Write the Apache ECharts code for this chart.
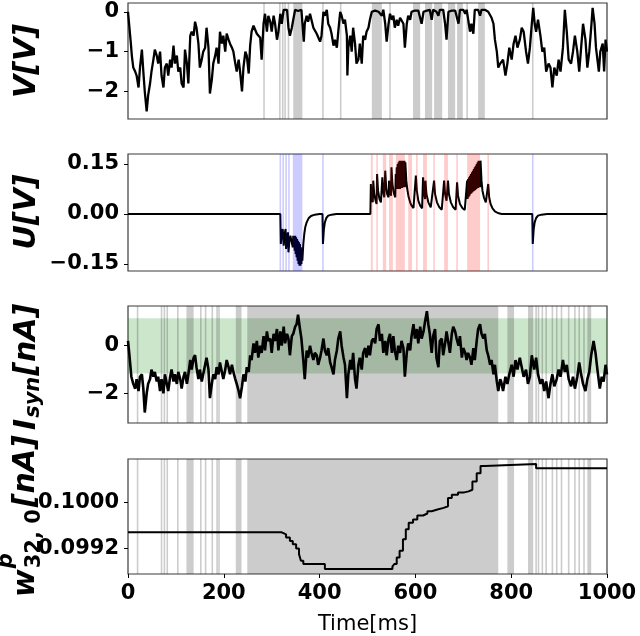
<!DOCTYPE html>
<html><head><meta charset="utf-8">
<script src="https://cdn.jsdelivr.net/npm/echarts@6/dist/echarts.min.js"></script>
<style>html,body{margin:0;padding:0;background:#fff}#c{width:640px;height:636px}</style>
</head><body><div id="c"></div>
<script>
// ---------------- data ----------------
const timeTicks = [0, 200, 400, 600, 800, 1000];
const vTickVals = [-2, -1, 0];
const vTickLabels = ['\u22122', '\u22121', '0'];
const uTickVals = [-0.15, 0, 0.15];
const uTickLabels = ['\u22120.15', '0.00', '0.15'];
const iTickVals = [-2, 0];
const iTickLabels = ['\u22122', '0'];
const wTickVals = [0.0992, 0.1000];
const wTickLabels = ['0.0992', '0.1000'];

const vTrace = [[0,0.0],[3,-0.05],[6,-0.8],[8,-1.1],[11,-1.4],[15,-1.5],[18,-1.6],[22,-1.9],[25,-1.4],[29,-0.95],[32,-1.5],[35,-2.0],[39,-2.5],[42,-2.1],[46,-1.8],[49,-1.5],[53,-1.2],[56,-0.95],[60,-1.1],[63,-1.3],[67,-1.0],[70,-1.6],[74,-1.9],[77,-1.4],[81,-1.3],[84,-1.6],[88,-1.2],[91,-1.4],[95,-0.85],[98,-1.3],[102,-1.1],[105,-1.5],[109,-1.4],[112,-1.8],[116,-1.9],[119,-0.95],[123,-1.3],[126,-1.8],[130,-0.6],[133,-0.5],[137,-0.6],[140,-0.25],[143,-0.4],[147,-0.8],[150,-1.4],[154,-1.2],[157,-1.0],[161,-0.9],[164,-0.4],[168,-0.9],[171,-2.05],[175,-1.7],[178,-1.3],[182,-1.1],[185,-0.9],[189,-1.3],[192,-0.5],[196,-0.8],[199,-0.6],[203,-1.0],[206,-0.55],[210,-0.7],[213,-0.8],[217,-0.9],[220,-1.0],[224,-1.3],[227,-1.5],[231,-1.2],[234,-1.5],[238,-2.0],[241,-1.4],[245,-1.0],[248,-1.1],[252,-1.55],[255,-0.85],[258,-0.5],[262,-0.35],[265,-0.3],[269,-0.55],[272,-0.6],[276,-0.65],[279,-1.2],[283,-0.3],[286,-0.05],[290,-0.5],[293,-0.1],[297,-0.25],[300,-0.5],[304,-0.1],[307,-0.3],[311,-0.7],[314,-0.5],[318,-0.05],[321,-0.3],[325,0.05],[328,0.0],[332,0.05],[335,-0.4],[338,-0.6],[342,-0.4],[345,-0.2],[349,0.05],[352,0.05],[355,0.02],[359,0.0],[362,0.05],[366,0.05],[367,-0.75],[369,-0.3],[373,-0.1],[376,-0.25],[380,-0.05],[383,-0.2],[387,-0.4],[390,-0.35],[394,-0.55],[397,-0.6],[401,-0.75],[404,-0.6],[408,0.0],[411,-0.1],[415,0.05],[418,-0.3],[422,-0.4],[425,-0.55],[429,-0.85],[432,-0.7],[436,-0.9],[439,-0.5],[443,0.0],[446,-0.1],[450,-0.3],[453,-0.2],[457,-0.6],[458,-1.6],[460,-0.9],[464,-0.6],[467,-1.0],[470,-0.4],[474,-0.8],[477,-1.3],[481,-1.2],[484,-0.8],[488,-1.3],[491,-0.6],[495,-0.7],[498,-0.5],[502,-0.4],[505,-0.2],[509,0.0],[512,0.05],[516,0.03],[519,0.05],[523,0.0],[526,0.05],[530,-0.1],[533,0.05],[537,-0.3],[540,-0.75],[544,-0.3],[547,-0.05],[551,-0.2],[554,-0.1],[557,-0.4],[561,-0.2],[564,-0.35],[568,-0.15],[571,-0.1],[575,-0.3],[578,-0.9],[582,-0.3],[585,-0.1],[589,-0.2],[592,0.0],[596,0.05],[599,0.03],[603,0.05],[606,0.03],[610,0.05],[613,-0.3],[617,0.0],[620,0.05],[624,0.03],[627,0.05],[630,0.05],[634,-0.2],[637,0.05],[641,0.03],[644,0.0],[648,-0.1],[651,0.05],[655,0.03],[658,0.05],[662,-0.3],[665,-0.7],[669,0.0],[672,0.05],[676,0.03],[679,0.05],[683,0.03],[686,0.05],[690,-0.3],[693,0.05],[697,0.03],[700,0.05],[704,-0.05],[707,0.05],[710,0.0],[714,-0.5],[717,-0.3],[721,-0.55],[724,0.05],[728,0.03],[731,0.05],[735,-0.1],[738,0.05],[742,0.03],[745,0.05],[749,0.03],[752,0.0],[756,0.05],[759,-0.15],[763,-0.3],[766,-0.7],[770,-1.0],[773,-1.4],[777,-1.3],[779,-1.3],[783,-1.2],[788,-1.6],[792,-1.3],[796,-0.9],[801,-1.2],[805,-0.8],[809,-0.6],[813,-0.9],[818,-0.7],[822,-0.4],[826,-0.5],[831,-1.0],[835,-1.3],[839,-0.9],[843,-0.3],[846,0.1],[849,-0.3],[852,-0.5],[856,-0.2],[861,-0.6],[865,-1.0],[869,-0.9],[873,-1.5],[878,-1.3],[882,-1.4],[886,-1.9],[890,-1.4],[895,-1.6],[899,-1.2],[903,-1.5],[908,-0.9],[912,0.05],[916,-0.5],[920,-1.2],[925,-1.3],[929,-1.0],[933,-0.6],[938,-1.0],[942,-1.5],[946,-0.9],[950,-0.3],[955,-0.7],[959,-1.4],[963,-1.0],[967,-0.4],[970,0.1],[974,-0.3],[977,-0.9],[983,-1.5],[986,-1.0],[991,-0.8],[994,-1.5],[997,-0.7],[1000,-1.0]];
const vSpikes = [284, 317, 323, 328, 335, 407, 444, 547, 708, 845];
const vSpikeBursts = [[345,364],[509,530],[595,610],[620,635],[639,656],[668,683],[687,699],[731,745]];

const uTrace = [[0,0],[318,0],[319,-0.09],[321,-0.06],[323,-0.045],[324,-0.04],[325,-0.095],[327,-0.06],[329,-0.045],[330,-0.105],[332,-0.07],[334,-0.055],[335,-0.115],[337,-0.08],[339,-0.065],[342,-0.06],[344,-0.1],[345,-0.065],[346,-0.1],[347,-0.065],[348,-0.11],[349,-0.065],[350,-0.12],[351,-0.07],[352,-0.13],[353,-0.075],[354,-0.14],[355,-0.08],[356,-0.15],[357,-0.085],[358,-0.155],[359,-0.09],[360,-0.155],[361,-0.1],[362,-0.15],[363,-0.11],[364,-0.14],[366,-0.09],[368,-0.06],[370,-0.04],[373,-0.025],[377,-0.013],[382,-0.006],[390,-0.002],[400,0],[406,0],[407,-0.09],[409,-0.045],[411,-0.025],[414,-0.012],[418,-0.005],[425,-0.002],[435,0],[506,0],[507,0.09],[509,0.05],[511,0.035],[512,0.1],[514,0.06],[517,0.04],[519,0.03],[520,0.12],[522,0.07],[525,0.045],[528,0.035],[531,0.11],[533,0.065],[535,0.05],[537,0.13],[539,0.08],[541,0.06],[544,0.05],[545,0.1],[547,0.065],[549,0.055],[550,0.14],[552,0.09],[554,0.07],[556,0.058],[558,0.05],[559,0.12],[560,0.075],[561,0.14],[562,0.075],[563,0.15],[564,0.075],[565,0.155],[566,0.075],[567,0.16],[568,0.075],[569,0.16],[570,0.078],[571,0.16],[572,0.078],[573,0.16],[574,0.08],[575,0.16],[576,0.08],[577,0.16],[578,0.08],[579,0.155],[581,0.1],[583,0.075],[586,0.05],[589,0.035],[592,0.025],[596,0.018],[600,0.013],[601,0.115],[603,0.07],[606,0.04],[610,0.025],[614,0.017],[616,0.11],[618,0.065],[620,0.045],[621,0.1],[623,0.06],[627,0.035],[632,0.02],[636,0.014],[639,0.1],[641,0.06],[645,0.035],[650,0.02],[655,0.013],[659,0.01],[660,0.1],[662,0.06],[665,0.04],[668,0.1],[670,0.06],[674,0.035],[679,0.02],[684,0.013],[687,0.095],[689,0.055],[693,0.03],[698,0.018],[703,0.012],[707,0.01],[708,0.1],[709,0.045],[710,0.105],[711,0.05],[712,0.11],[713,0.055],[714,0.115],[715,0.06],[716,0.12],[717,0.062],[718,0.125],[719,0.065],[720,0.13],[721,0.068],[722,0.135],[723,0.07],[724,0.14],[725,0.072],[726,0.145],[727,0.075],[728,0.15],[729,0.077],[730,0.155],[731,0.078],[732,0.16],[733,0.08],[734,0.16],[735,0.08],[736,0.16],[738,0.1],[740,0.07],[743,0.05],[747,0.035],[751,0.03],[752,0.09],[754,0.05],[757,0.03],[761,0.017],[766,0.008],[772,0.003],[780,0],[844,0],[845,-0.09],[847,-0.045],[849,-0.025],[852,-0.012],[856,-0.005],[863,-0.002],[875,0],[1000,0]];
const uBlueSpikes = [318, 324, 330, 336, 407, 845];
const uBlueBursts = [[344,364]];
const uRedSpikes = [520, 603, 639, 687, 752];
const uRedBursts = [[507,511],[532,539],[545,553],[559,578],[585,593],[616,624],[660,668],[708,735]];

const iTrace = [[0,0.2],[3,-0.4],[7,-1.3],[11,-1.6],[15,-1.8],[18,-1.4],[22,-1.9],[25,-1.3],[29,-1.2],[32,-1.8],[35,-2.8],[39,-2.0],[42,-1.6],[46,-1.4],[49,-1.0],[53,-1.3],[56,-1.1],[60,-1.5],[63,-1.3],[67,-1.9],[70,-1.4],[74,-2.0],[77,-1.2],[81,-1.6],[84,-1.9],[88,-1.3],[91,-1.0],[95,-1.5],[98,-1.2],[102,-1.6],[105,-1.1],[109,-1.4],[112,-1.8],[116,-1.3],[119,-1.1],[123,-1.6],[126,-1.2],[130,-0.6],[133,-1.0],[137,-0.5],[140,-0.4],[143,-0.9],[147,-1.4],[150,-1.0],[154,-1.5],[157,-1.2],[161,-0.8],[164,-0.5],[168,-1.0],[171,-2.2],[175,-1.6],[178,-1.2],[182,-1.4],[185,-0.9],[189,-1.2],[192,-0.7],[196,-1.1],[199,-1.4],[203,-1.0],[206,-0.6],[210,-0.9],[213,-1.2],[217,-0.8],[220,-1.1],[224,-1.4],[227,-1.6],[231,-1.9],[234,-2.2],[238,-1.7],[241,-1.2],[245,-1.5],[248,-0.9],[252,-1.1],[255,-0.4],[258,-0.6],[262,0.1],[265,-0.3],[269,0.2],[272,-0.5],[276,0.0],[279,-0.3],[283,0.4],[286,-0.2],[290,0.6],[293,0.2],[297,0.3],[300,-0.3],[304,0.5],[307,0.2],[311,0.7],[314,-0.2],[318,0.6],[321,0.0],[325,0.8],[328,0.1],[332,0.5],[335,0.3],[338,-0.4],[342,0.4],[345,0.5],[349,0.8],[352,0.9],[355,1.3],[359,0.7],[362,0.3],[366,-0.6],[369,-1.4],[373,-0.2],[376,-0.5],[380,0.0],[383,-0.3],[387,-0.6],[390,-0.3],[394,-0.4],[397,-0.8],[401,-0.5],[404,-0.2],[408,0.3],[411,-0.2],[415,-0.4],[418,-0.1],[422,-0.7],[425,-0.9],[429,-1.2],[432,-0.6],[436,-0.2],[439,0.3],[443,0.6],[446,0.0],[450,-0.5],[453,-0.8],[457,-2.2],[460,-1.2],[464,-0.6],[467,-1.0],[470,-0.3],[474,-1.4],[477,-1.8],[481,-0.8],[484,-0.5],[488,-1.0],[491,-0.3],[495,-0.1],[498,-0.5],[502,0.0],[505,-0.4],[509,0.2],[512,0.3],[516,0.1],[519,0.7],[523,0.9],[526,0.2],[530,0.5],[533,-0.3],[537,0.2],[540,-0.4],[544,0.3],[547,0.5],[551,-0.3],[554,0.4],[557,-0.2],[561,-0.6],[564,0.0],[568,-0.3],[571,0.2],[575,-0.1],[578,-1.3],[582,-0.3],[585,0.1],[589,-0.2],[592,0.4],[596,0.9],[599,0.3],[603,0.7],[606,0.1],[610,0.8],[613,0.3],[617,0.6],[620,1.0],[624,1.45],[627,0.9],[630,0.5],[634,-0.3],[637,0.4],[641,0.7],[644,-0.5],[648,-0.9],[651,0.2],[655,0.3],[658,-0.4],[662,0.1],[665,0.6],[669,0.1],[672,-0.3],[676,0.5],[679,0.8],[683,0.6],[686,0.3],[690,0.0],[693,0.4],[697,-0.5],[700,-0.1],[704,-0.3],[707,-0.6],[710,-0.3],[714,-0.5],[717,-0.8],[721,-0.1],[724,-0.6],[728,0.2],[731,0.7],[735,0.9],[738,0.5],[742,0.3],[745,0.5],[749,-0.2],[752,-0.4],[756,-0.8],[759,-0.6],[763,-1.2],[766,-0.8],[770,-1.5],[773,-1.9],[777,-1.4],[779,-1.5],[783,-1.9],[788,-1.3],[792,-1.6],[796,-1.2],[801,-0.8],[805,-1.3],[809,-0.6],[813,-1.0],[818,-0.5],[822,-0.9],[826,-1.3],[831,-1.0],[835,-1.6],[839,-1.3],[843,-0.4],[848,-1.0],[852,-0.5],[856,-1.2],[861,-1.6],[865,-1.4],[869,-1.9],[873,-1.5],[878,-2.2],[882,-1.6],[886,-1.2],[890,-1.7],[895,-1.4],[899,-1.0],[903,-1.3],[908,-0.6],[912,-1.1],[916,-0.8],[920,-1.4],[925,-1.7],[929,-1.3],[933,-1.8],[938,-1.3],[942,-0.7],[946,-1.2],[950,-1.6],[955,-1.9],[959,-1.4],[963,-1.1],[967,-0.4],[972,0.2],[976,-0.3],[980,-1.0],[985,-1.8],[989,-1.3],[993,-1.5],[997,-0.8],[1000,-1.2]];
const iBand = [-1.17, 1.15];

const inSpikes = [20, 70, 76, 82, 104, 152, 162, 176, 186, 190, 852, 857, 865, 873, 886, 895, 905, 920, 933, 942, 952];
const inBursts = [[122,137],[225,237],[249,773],[792,806],[835,846],[959,967]];

const wTrace = [[0,0.099482],[321,0.099448],[330,0.09939],[338,0.099332],[344,0.099275],[351,0.0992],[357,0.099102],[361,0.098987],[366,0.09893],[411,0.098843],[552,0.098884],[556,0.09893],[561,0.099045],[567,0.09916],[574,0.099361],[580,0.099534],[586,0.099649],[595,0.099706],[604,0.099776],[616,0.09981],[625,0.09985],[634,0.099879],[646,0.099908],[659,0.099937],[668,0.100081],[676,0.100138],[689,0.100178],[702,0.100196],[711,0.100224],[719,0.100368],[728,0.100512],[736,0.100639],[745,0.100673],[852,0.100598],[1000,0.100598]];

// ---------------- chart ----------------
const FONT = '"DejaVu Sans", "Liberation Sans", sans-serif';
const chart = echarts.init(document.getElementById('c'), null, {renderer: 'canvas', width: 640, height: 636});

const gridBoxes = [
  {top: 3, height: 116},
  {top: 154, height: 117},
  {top: 306, height: 117},
  {top: 459, height: 116}
];
const yRanges = [[-2.69, 0.22], [-0.171, 0.18], [-3.24, 1.665], [0.098756, 0.10076]];
const yTicks = [[vTickVals, vTickLabels], [uTickVals, uTickLabels], [iTickVals, iTickLabels], [wTickVals, wTickLabels]];

function labelFmt(vals, labels) {
  return function (v) {
    let best = 0, bd = Infinity;
    vals.forEach((t, k) => { const d = Math.abs(t - v); if (d < bd) { bd = d; best = k; } });
    return labels[best];
  };
}

function spikeRenderer(color) {
  return function (params, api) {
    const cs = params.coordSys;
    const a = api.coord([api.value(0), 0])[0];
    const b = api.coord([api.value(1), 0])[0];
    let x0 = a, w = b - a;
    if (w < 1.6) { x0 = (a + b) / 2 - 0.8; w = 1.6; }
    return {type: 'rect', shape: {x: x0, y: cs.y, width: w, height: cs.height}, style: {fill: color}};
  };
}
function bandRenderer(color) {
  return function (params, api) {
    const cs = params.coordSys;
    const y0 = api.coord([0, api.value(0)])[1];
    const y1 = api.coord([0, api.value(1)])[1];
    return {type: 'rect', shape: {x: cs.x, y: Math.min(y0, y1), width: cs.width, height: Math.abs(y1 - y0)}, style: {fill: color}};
  };
}
function spikeData(singles, bursts) {
  return singles.map(t => [t, t]).concat(bursts);
}

const grid = gridBoxes.map(g => ({left: 128, width: 479, top: g.top, height: g.height, show: true,
  borderColor: '#3a3a3a', borderWidth: 1.2, backgroundColor: 'rgba(0,0,0,0)'}));

const xAxis = gridBoxes.map((g, i) => ({
  type: 'value', gridIndex: i, min: 0, max: 1000, interval: 200,
  axisLine: {show: false}, splitLine: {show: false},
  axisTick: {show: i === 3, length: 4, lineStyle: {color: '#000', width: 1}},
  axisLabel: {show: i === 3, fontSize: 21, fontWeight: 'bold', fontFamily: FONT, color: '#000', margin: 9,
    customValues: timeTicks, formatter: v => String(Math.round(v))},
  name: i === 3 ? 'Time[ms]' : '', nameLocation: 'middle', nameGap: 40,
  nameTextStyle: {fontSize: 21, fontFamily: FONT, color: '#000'}
}));

const yAxis = gridBoxes.map((g, i) => ({
  type: 'value', gridIndex: i, min: yRanges[i][0], max: yRanges[i][1],
  axisLine: {show: false}, splitLine: {show: false},
  axisTick: {show: true, length: 4, lineStyle: {color: '#000', width: 1}, customValues: yTicks[i][0]},
  axisLabel: {fontSize: 21, fontWeight: 'bold', fontFamily: FONT, color: '#000', margin: 9,
    customValues: yTicks[i][0], formatter: labelFmt(yTicks[i][0], yTicks[i][1])}
}));

const series = [
  {type: 'line', xAxisIndex: 0, yAxisIndex: 0, data: vTrace, showSymbol: false, lineStyle: {color: '#000', width: 2.3}, z: 2, silent: true},
  {type: 'custom', xAxisIndex: 0, yAxisIndex: 0, data: spikeData(vSpikes, vSpikeBursts), renderItem: spikeRenderer('rgba(0,0,0,0.2)'), z: 3, silent: true},

  {type: 'line', xAxisIndex: 1, yAxisIndex: 1, data: uTrace, showSymbol: false, lineStyle: {color: '#000', width: 2}, z: 2, silent: true},
  {type: 'custom', xAxisIndex: 1, yAxisIndex: 1, data: spikeData(uBlueSpikes, uBlueBursts), renderItem: spikeRenderer('rgba(0,0,255,0.2)'), z: 3, silent: true},
  {type: 'custom', xAxisIndex: 1, yAxisIndex: 1, data: spikeData(uRedSpikes, uRedBursts), renderItem: spikeRenderer('rgba(255,0,0,0.2)'), z: 3, silent: true},

  {type: 'custom', xAxisIndex: 2, yAxisIndex: 2, data: [iBand], renderItem: bandRenderer('rgba(0,128,0,0.2)'), z: 1, silent: true},
  {type: 'line', xAxisIndex: 2, yAxisIndex: 2, data: iTrace, showSymbol: false, lineStyle: {color: '#000', width: 2.6}, z: 2, silent: true},
  {type: 'custom', xAxisIndex: 2, yAxisIndex: 2, data: spikeData(inSpikes, inBursts), renderItem: spikeRenderer('rgba(0,0,0,0.2)'), z: 3, silent: true},

  {type: 'line', xAxisIndex: 3, yAxisIndex: 3, data: wTrace, step: 'end', showSymbol: false, lineStyle: {color: '#000', width: 2}, z: 2, silent: true},
  {type: 'custom', xAxisIndex: 3, yAxisIndex: 3, data: spikeData(inSpikes, inBursts), renderItem: spikeRenderer('rgba(0,0,0,0.2)'), z: 3, silent: true}
];

// rotated y-axis names (mathtext-like pieces)
const mctx = document.createElement('canvas').getContext('2d');
function tw(font, s) { mctx.font = font; return mctx.measureText(s).width; }
const FM = 'italic bold 30px "DejaVu Sans"';
const FS = 'italic bold 21px "DejaVu Sans"';
const FD = 'bold 21px "DejaVu Sans"';
function txt(s, font, x, y, align) {
  return {type: 'text', x: x, y: y, style: {text: s, font: font, fill: '#000',
    textAlign: align || 'left', textVerticalAlign: 'middle', align: align || 'left', verticalAlign: 'middle'}};
}
const wI = tw(FM, 'I'), wSyn = tw(FS, 'syn'), wW = tw(FM, 'w'), wP = tw(FS, 'p'), w32 = tw(FD, '32, 0');
const graphic = [
  {type: 'group', x: 27, y: 61, rotation: Math.PI / 2, children: [txt('V[V]', FM, 0, 0, 'center')]},
  {type: 'group', x: 27, y: 212, rotation: Math.PI / 2, children: [txt('U[V]', FM, 0, 0, 'center')]},
  {type: 'group', x: 27, y: 430, rotation: Math.PI / 2, children: [
    txt('I', FM, 0, 0), txt('syn', FS, wI + 1, 7), txt('[nA]', FM, wI + wSyn + 2, 0)]},
  {type: 'group', x: 26, y: 597, rotation: Math.PI / 2, children: [
    txt('w', FM, 0, 0), txt('p', FS, wW + 1, -19), txt('32, 0', FD, wW + 1, 9),
    txt('[nA]', FM, wW + Math.max(wP, w32) + 3, 0)]}
];

chart.setOption({animation: false, grid, xAxis, yAxis, series, graphic});
</script></body></html>
